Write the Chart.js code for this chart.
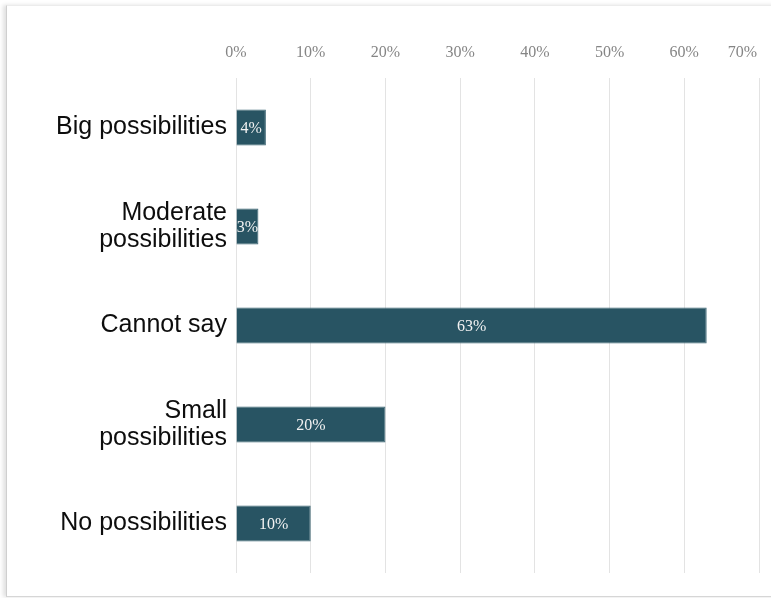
<!DOCTYPE html>
<html>
<head>
<meta charset="utf-8">
<script src="https://cdn.jsdelivr.net/npm/chart.js@4.4.0/dist/chart.umd.min.js"></script>
<style>
  html, body { margin: 0; padding: 0; background: #fff; overflow: hidden; }
  #marco {
    position: absolute; left: 6px; top: 5px; width: 800px; height: 590px;
    border-left: 1px solid #cfcfcf; border-top: 1px solid #ececec; border-bottom: 1px solid #d6d6d6;
    box-shadow: -3px 0 4px rgba(0,0,0,0.12);
  }
  #wrap { position: absolute; left: 0; top: 0; width: 771px; height: 598px; }
</style>
</head>
<body>
<div id="marco"></div>
<div id="wrap"><canvas id="grafico" width="771" height="598"></canvas></div>
<script>
// datos
const categorias = ['Big possibilities', ['Moderate', 'possibilities'], 'Cannot say', ['Small', 'possibilities'], 'No possibilities'];
const valores = [4, 3, 63, 20, 10];
const ticksX = [0, 10, 20, 30, 40, 50, 60, 70];

const colorBarra = '#285463';

// etiquetas del eje de arriba (la ultima se corre a la izquierda como en el original)
const etiquetasArriba = {
  id: 'etiquetasArriba',
  afterDraw(chart) {
    const ctx = chart.ctx;
    const x = chart.scales.x;
    ctx.save();
    ctx.font = '16px "Liberation Serif", "Times New Roman", serif';
    ctx.fillStyle = '#858585';
    ctx.textAlign = 'center';
    ctx.textBaseline = 'middle';
    ticksX.forEach(v => {
      const txt = v + '%';
      const w = ctx.measureText(txt).width;
      let px = x.getPixelForValue(v);
      if (px + w / 2 > 757) px = 757 - w / 2;
      ctx.fillText(txt, px, 53);
    });
    ctx.restore();
  }
};

// valores dentro de las barras, recortados a la barra
const valoresBarras = {
  id: 'valoresBarras',
  afterDatasetsDraw(chart) {
    const ctx = chart.ctx;
    const meta = chart.getDatasetMeta(0);
    ctx.save();
    ctx.font = '16px "Liberation Serif", "Times New Roman", serif';
    ctx.fillStyle = '#f2f2f2';
    ctx.textAlign = 'center';
    ctx.textBaseline = 'middle';
    meta.data.forEach((bar, i) => {
      const izq = Math.min(bar.base, bar.x);
      const ancho = Math.abs(bar.x - bar.base);
      ctx.save();
      ctx.beginPath();
      ctx.rect(izq, bar.y - bar.height / 2, ancho, bar.height);
      ctx.clip();
      ctx.fillText(valores[i] + '%', izq + ancho / 2, bar.y + 1);
      ctx.restore();
    });
    ctx.restore();
  }
};

const ctx = document.getElementById('grafico').getContext('2d');
new Chart(ctx, {
  type: 'bar',
  data: {
    labels: categorias,
    datasets: [{
      data: valores,
      backgroundColor: colorBarra,
      borderColor: '#3b6573',
      borderWidth: 1,
      categoryPercentage: 1,
      barPercentage: 0.365
    }]
  },
  options: {
    indexAxis: 'y',
    responsive: false,
    animation: false,
    layout: { padding: { top: 78, right: 12, bottom: 25, left: 0 } },
    plugins: {
      legend: { display: false },
      tooltip: { enabled: false }
    },
    scales: {
      x: {
        position: 'top',
        min: 0,
        max: 70,
        ticks: { display: false, stepSize: 10 },
        grid: { color: '#e3e3e3', lineWidth: 1, drawTicks: false },
        border: { display: false }
      },
      y: {
        ticks: {
          color: '#0d0d0d',
          padding: 9,
          font: { family: '"Liberation Sans", Arial, sans-serif', size: 25, lineHeight: 1.1 }
        },
        grid: { display: false, drawTicks: false },
        border: { display: false },
        afterFit(scale) { scale.width = 236; }
      }
    }
  },
  plugins: [etiquetasArriba, valoresBarras]
});
</script>
</body>
</html>
